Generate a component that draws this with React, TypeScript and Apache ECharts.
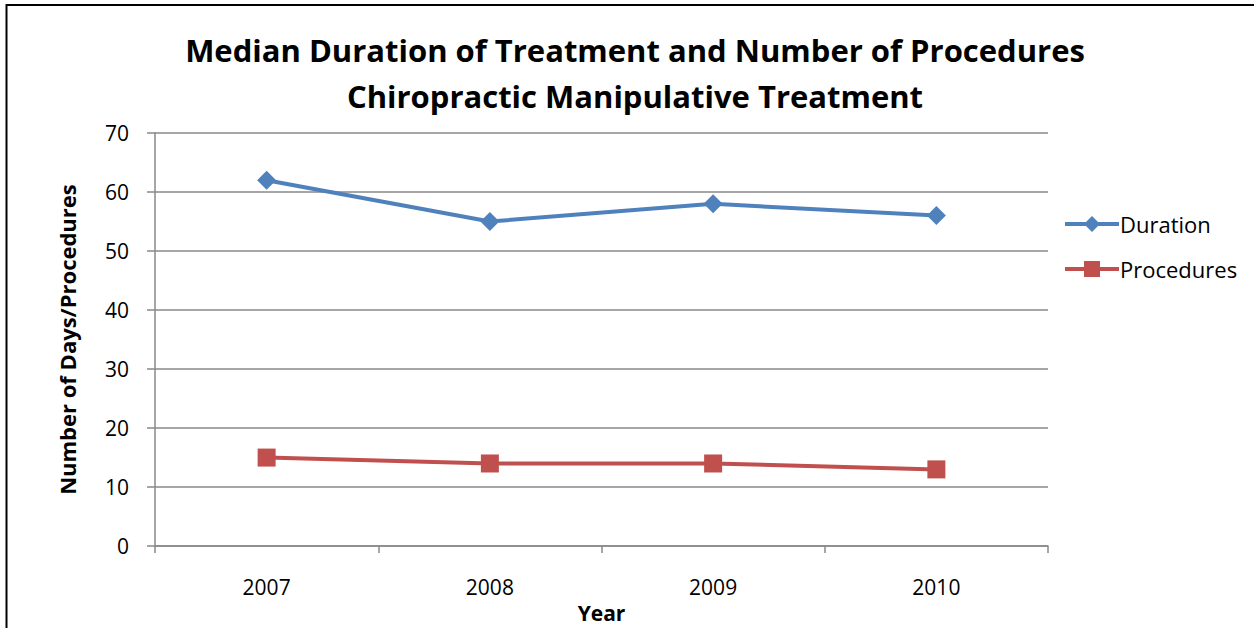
import React, { useEffect, useRef } from "react";
import * as echarts from "echarts";

const categories = ["2007", "2008", "2009", "2010"];
const durationValues = [62, 55, 58, 56];
const procedureValues = [15, 14, 14, 13];
const titleLines = ["Median Duration of Treatment and Number of Procedures", "Chiropractic Manipulative Treatment"];

const FONT = "'Open Sans', 'Noto Sans', sans-serif";

export default function App() {
  const ref = useRef<HTMLDivElement>(null);
  useEffect(() => {
    document.body.style.margin = "0";
    const chart = echarts.init(ref.current!, null, { renderer: "svg" });
    chart.setOption({
      animation: false,
      backgroundColor: "#ffffff",
      title: {
        text: titleLines.join("\n"),
        left: 630,
        textAlign: "center",
        top: 22,
        textStyle: { fontFamily: FONT, fontWeight: "bold", fontSize: 31, lineHeight: 46, color: "#000" },
      },
      graphic: [
        {
          type: "rect",
          shape: { x: 6.5, y: 5, width: 1260, height: 640 },
          style: { fill: "none", stroke: "#000", lineWidth: 2 },
          silent: true,
        },
      ],
      legend: {
        orient: "vertical",
        left: 1058,
        top: 208,
        itemWidth: 54,
        itemHeight: 20,
        itemGap: 23,
        lineStyle: { width: 4 },
        textStyle: { fontFamily: FONT, fontSize: 22, color: "#000", padding: [0, 0, 0, -4] },
        data: ["Duration", "Procedures"],
      },
      grid: { left: 155, right: 206, top: 133, bottom: 74, containLabel: false },
      xAxis: {
        type: "category",
        data: categories,
        boundaryGap: true,
        name: "Year",
        nameLocation: "middle",
        nameGap: 48,
        nameTextStyle: { fontFamily: FONT, fontWeight: "bold", fontSize: 21, color: "#000" },
        axisLine: { lineStyle: { color: "#888", width: 1.5 } },
        axisTick: { show: true, length: 7, lineStyle: { color: "#888", width: 1.5 } },
        axisLabel: { fontFamily: FONT, fontSize: 21, color: "#000", margin: 30 },
      },
      yAxis: {
        type: "value",
        min: 0,
        max: 70,
        interval: 10,
        name: "Number of Days/Procedures",
        nameLocation: "middle",
        nameGap: 77,
        nameRotate: 90,
        nameTextStyle: { fontFamily: FONT, fontWeight: "bold", fontSize: 22, color: "#000" },
        axisLine: { show: true, lineStyle: { color: "#888", width: 1.5 } },
        axisTick: { show: true, length: 8, lineStyle: { color: "#888", width: 1.5 } },
        axisLabel: { fontFamily: FONT, fontSize: 21, color: "#000", margin: 26 },
        splitLine: { lineStyle: { color: "#888", width: 1.5 } },
      },
      series: [
        {
          name: "Duration",
          type: "line",
          data: durationValues,
          symbol: "diamond",
          symbolSize: 19,
          itemStyle: { color: "#4F81BD" },
          lineStyle: { color: "#4F81BD", width: 4 },
        },
        {
          name: "Procedures",
          type: "line",
          data: procedureValues,
          symbol: "rect",
          symbolSize: 18,
          itemStyle: { color: "#C0504D" },
          lineStyle: { color: "#C0504D", width: 4 },
        },
      ],
    });
    return () => chart.dispose();
  }, []);
  return <div ref={ref} style={{ position: "absolute", left: 0, top: 0, width: 1254, height: 628 }} />;
}
